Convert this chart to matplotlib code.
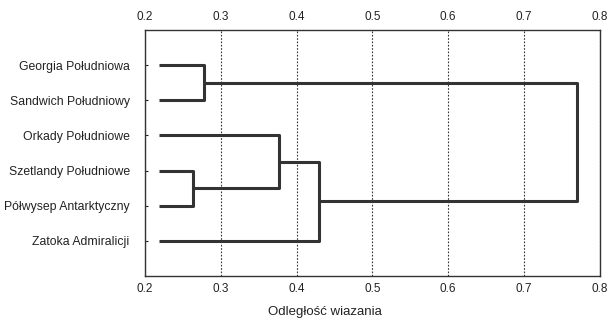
import matplotlib
matplotlib.use("Agg")
import matplotlib.pyplot as plt

# leaves, top to bottom
labels = ["Georgia Południowa", "Sandwich Południowy", "Orkady Południowe",
          "Szetlandy Południowe", "Półwysep Antarktyczny", "Zatoka Admiralicji"]
leaf_start = 0.218

# merges: (left node, right node, linkage distance); nodes 0-5 are leaves
merges = [
    (0, 1, 0.278),   # Georgia + Sandwich
    (3, 4, 0.263),   # Szetlandy + Półwysep
    (2, 7, 0.377),   # Orkady + (Szetlandy, Półwysep)
    (8, 5, 0.429),   # ... + Zatoka
    (6, 9, 0.770),   # final
]
ticks = [0.2, 0.3, 0.4, 0.5, 0.6, 0.7, 0.8]

plt.rcParams["font.family"] = ["Liberation Sans", "DejaVu Sans"]
fig = plt.figure(figsize=(6.09, 3.23), dpi=100)
ax = fig.add_axes([0.238, 0.1455, 0.747, 0.7615])

pos = {i: (leaf_start, i + 1) for i in range(len(labels))}
line_kw = dict(color="#333333", lw=2.2, solid_capstyle="butt", zorder=3)
node = len(labels)
for a, b, d in merges:
    xa, ya = pos[a]
    xb, yb = pos[b]
    ax.plot([xa, d, d, xb], [ya, ya, yb, yb], **line_kw)
    pos[node] = (d, (ya + yb) / 2)
    node += 1

ax.set_xlim(0.2, 0.8)
ax.set_ylim(7, 0)
ax.set_xticks(ticks)
ax.set_xticklabels([f"{t:.1f}" for t in ticks])
ax.set_yticks(range(1, len(labels) + 1))
ax.set_yticklabels(labels)
ax.tick_params(axis="x", top=True, labeltop=True, length=0, labelsize=8.5,
               colors="#222222", pad=5)
ax.tick_params(axis="y", direction="in", length=2, labelsize=8.8,
               colors="#222222", pad=11)
ax.xaxis.grid(True, linestyle=(0, (1.5, 1.5)), color="#333333", lw=0.8)
for s in ax.spines.values():
    s.set_color("#333333")
    s.set_linewidth(1.0)

fig.text(325 / 609, 1 - 312 / 323, "Odległość wiazania", ha="center", va="center",
         fontsize=9.5, color="#222222")

fig.savefig("out.png", dpi=100, facecolor="white")
